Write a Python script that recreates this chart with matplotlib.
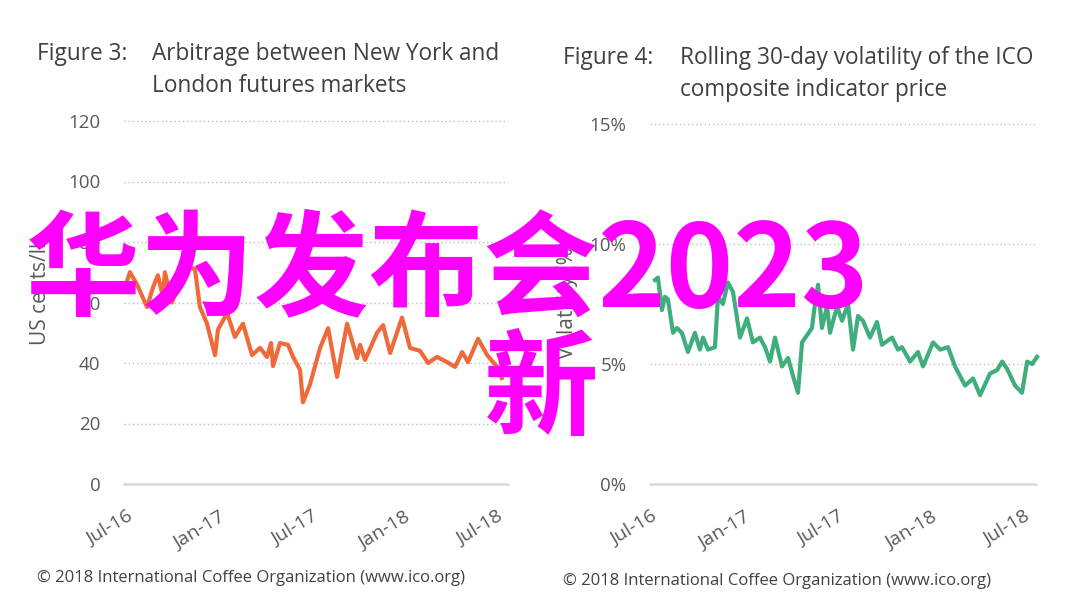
import matplotlib
matplotlib.use("Agg")
import matplotlib.pyplot as plt
from matplotlib import font_manager as fm

# ---------------- data ----------------
tick_labels = ["Jul-16", "Jan-17", "Jul-17", "Jan-18", "Jul-18"]
tick_months = [0, 6, 12, 18, 24]

# months since Jul-16
arb_months = [-0.13, 0.0, 0.19, 0.65, 1.30, 1.69, 2.01, 2.33, 2.46, 2.92, 3.44, 3.89,
              4.41, 4.73, 5.19, 5.71, 5.90, 6.49, 7.00, 7.52, 8.11, 8.63, 9.08, 9.34,
              9.47, 9.92, 10.44, 10.77, 11.22, 11.41, 11.87, 12.52, 13.04, 13.62, 14.27,
              14.92, 15.11, 15.43, 16.21, 16.60, 17.06, 17.83, 18.35, 19.00, 19.52,
              20.10, 20.75, 21.27, 21.73, 22.11, 22.76, 23.35, 24.00, 24.30]
arb_values = [63.5, 67, 70, 66, 58.5, 65, 69, 62, 70, 60, 67, 72,
              71, 58.5, 53, 42.6, 51, 56.5, 48.6, 53, 42.6, 45, 42, 46.6,
              39, 46.6, 46, 42, 37.7, 27, 33, 45, 51.5, 35.4, 53,
              41.6, 46, 41, 50, 52.5, 43.3, 55, 45, 44, 40,
              42, 40.3, 38.7, 43.6, 40.3, 48, 42.6, 38.7, 35]

vol_months = [0.26, 0.45, 0.71, 0.90, 1.09, 1.42, 1.67, 1.99, 2.38, 2.83, 3.15, 3.35,
              3.67, 4.12, 4.31, 4.63, 4.95, 5.28, 5.73, 6.18, 6.56, 7.01, 7.34, 7.66,
              7.98, 8.43, 8.82, 9.14, 9.46, 9.72, 10.04, 10.36, 10.55, 10.75, 11.00,
              11.33, 11.52, 11.97, 12.29, 12.68, 13.00, 13.32, 13.64, 14.09, 14.54,
              14.86, 15.51, 15.89, 16.15, 16.67, 17.18, 17.50, 18.15, 18.60, 19.11,
              19.56, 20.21, 20.72, 21.17, 21.81, 22.27, 22.59, 22.91, 23.42, 23.87,
              24.20, 24.52, 24.84]
vol_values = [8.5, 8.6, 7.25, 7.8, 7.7, 6.3, 6.5, 6.3, 5.5, 6.3, 5.6, 6.1,
              5.6, 5.7, 7.8, 7.5, 8.4, 8.0, 6.1, 6.9, 5.9, 6.1, 5.7, 5.1,
              6.1, 4.9, 5.25, 4.5, 3.8, 5.9, 6.2, 6.5, 7.5, 8.3, 6.5,
              7.4, 6.3, 7.4, 6.8, 7.5, 5.6, 7.0, 6.8, 6.1, 6.75,
              5.8, 6.1, 5.6, 5.7, 5.1, 5.5, 4.9, 5.9, 5.6, 5.7,
              4.9, 4.1, 4.4, 3.7, 4.6, 4.75, 5.1, 4.8, 4.1, 3.8,
              5.1, 5.0, 5.3]

arb_yticks = [0, 20, 40, 60, 80, 100, 120]
vol_yticks = [0, 5, 10, 15]

# ---------------- fonts ----------------
names = {f.name for f in fm.fontManager.ttflist}
main_font = "Open Sans" if "Open Sans" in names else "DejaVu Sans"
narrow_font = "Liberation Sans Narrow" if "Liberation Sans Narrow" in names else main_font
plt.rcParams["font.family"] = [main_font, "DejaVu Sans"]

TICK_C = "#595959"
TITLE_C = "#404040"
W, H = 1080, 609

fig = plt.figure(figsize=(W / 100, H / 100), dpi=100)
fig.patch.set_facecolor("white")


def px(x0, y0, x1, y1):
    return [x0 / W, 1 - y1 / H, (x1 - x0) / W, (y1 - y0) / H]


def style(ax, yticks, ylabels, xlim, ylim):
    ax.set_xlim(*xlim)
    ax.set_ylim(*ylim)
    for s in ax.spines.values():
        s.set_visible(False)
    ax.set_yticks(yticks)
    ax.set_yticklabels(ylabels)
    ax.set_xticks(tick_months)
    ax.set_xticklabels(tick_labels)
    ax.tick_params(axis="y", length=0, pad=17, labelsize=13.5, labelcolor=TICK_C)
    ax.tick_params(axis="x", length=0, pad=17, labelsize=14, labelcolor=TICK_C)
    for lab in ax.get_xticklabels():
        lab.set_rotation(31)
        lab.set_ha("right")
        lab.set_rotation_mode("anchor")
    for v in yticks[1:]:
        ax.axhline(v, color="#BFBFBF", lw=1.0, ls=(0, (1, 2)), zorder=1, clip_on=False)
    ax.axhline(0, color="#D9D9D9", lw=1.8, zorder=1, clip_on=False)


ax1 = fig.add_axes(px(124, 121, 508, 484))
style(ax1, arb_yticks, [str(v) for v in arb_yticks], (-0.19, 24.7), (0, 120))
ax1.plot(arb_months, arb_values, color="#EF6A3A", lw=3.0, zorder=3, clip_on=False,
         solid_joinstyle="round")

ax2 = fig.add_axes(px(650, 124, 1036, 484))
style(ax2, vol_yticks, [f"{v}%" for v in vol_yticks], (-0.06, 24.77), (0, 15))
ax2.plot(vol_months, vol_values, color="#40AE7C", lw=3.0, zorder=3, clip_on=False,
         solid_joinstyle="round")

# axis labels
fig.text(40 / W, 1 - 290 / H, "US cents/lb", rotation=90, ha="center", va="center",
         fontsize=15, color=TICK_C)
fig.text(568 / W, 1 - 300 / H, "Volatility (%)", rotation=90, ha="center", va="center",
         fontsize=15, color=TICK_C)

# titles
TS = 16.3
fig.text(37 / W, 1 - 54 / H, "Figure 3:", ha="left", va="center", fontsize=TS, color=TITLE_C)
fig.text(152 / W, 1 - 54 / H, "Arbitrage between New York and", ha="left", va="center",
         fontsize=TS, color=TITLE_C)
fig.text(152 / W, 1 - 86 / H, "London futures markets", ha="left", va="center",
         fontsize=TS, color=TITLE_C)
fig.text(563 / W, 1 - 58 / H, "Figure 4:", ha="left", va="center", fontsize=TS, color=TITLE_C)
fig.text(680 / W, 1 - 58 / H, "Rolling 30-day volatility of the ICO", ha="left", va="center",
         fontsize=TS, color=TITLE_C)
fig.text(680 / W, 1 - 90 / H, "composite indicator price", ha="left", va="center",
         fontsize=TS, color=TITLE_C)

# footers
fig.text(37 / W, 1 - 578 / H, "© 2018 International Coffee Organization (www.ico.org)",
         ha="left", va="center", fontsize=12, color=TITLE_C, family=[narrow_font, "DejaVu Sans"])
fig.text(563 / W, 1 - 581 / H, "© 2018 International Coffee Organization (www.ico.org)",
         ha="left", va="center", fontsize=12, color=TITLE_C, family=[narrow_font, "DejaVu Sans"])

# watermark
wm_fam = ["Noto Sans CJK SC", "DejaVu Sans"]
fig.text(447 / W, 1 - 273 / H, "华为发布会2023", ha="center", va="center", fontsize=82.5,
         color="#FF00FF", family=wm_fam, weight="bold", zorder=10)
fig.text(541 / W, 1 - 393 / H, "新", ha="center", va="center", fontsize=82.5,
         color="#FF00FF", family=wm_fam, weight="bold", zorder=10)

fig.savefig("out.png", dpi=100, facecolor="white")
